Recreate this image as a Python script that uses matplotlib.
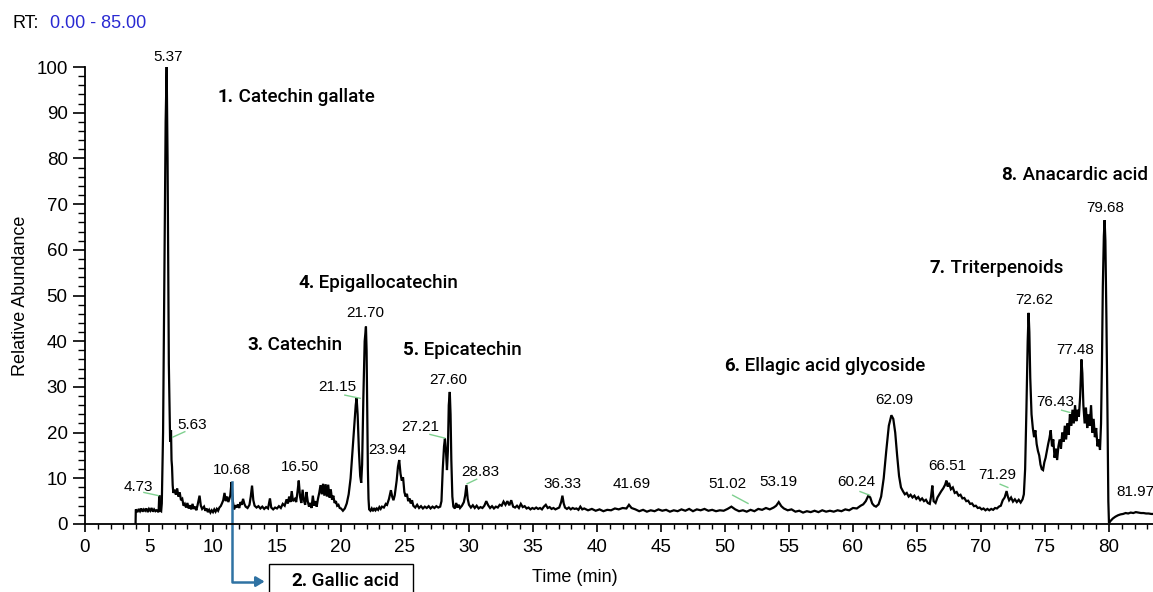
import matplotlib
matplotlib.use("Agg")
import matplotlib.pyplot as plt
from matplotlib.patches import Rectangle
from matplotlib.ticker import MultipleLocator

plt.rcParams['font.family'] = ['Liberation Sans', 'DejaVu Sans']

# chromatogram trace (time in min, relative abundance)
rt = [3.95, 3.97, 4.1, 4.2, 4.3, 4.4, 4.5, 4.6, 4.7, 4.8, 4.9, 5.0, 5.1, 5.2, 5.3, 5.4, 5.5, 5.6, 5.75, 5.8,
      5.85, 5.95, 6.0, 6.1, 6.2, 6.3, 6.38, 6.45, 6.55, 6.65, 6.72, 6.76, 6.8, 6.85, 6.9, 7.0, 7.1, 7.2, 7.3, 7.4,
      7.5, 7.6, 7.7, 7.8, 7.9, 8.0, 8.1, 8.2, 8.3, 8.4, 8.5, 8.6, 8.7, 8.8, 8.95, 9.05, 9.15, 9.3, 9.4, 9.5,
      9.6, 9.7, 9.8, 9.9, 10.0, 10.1, 10.2, 10.3, 10.4, 10.5, 10.6, 10.7, 10.8, 10.9, 11.0, 11.1, 11.2, 11.35, 11.45, 11.55,
      11.65, 11.75, 11.85, 11.95, 12.05, 12.15, 12.25, 12.35, 12.45, 12.55, 12.7, 12.85, 12.95, 13.05, 13.15, 13.25, 13.4, 13.55, 13.7, 13.85,
      14.0, 14.15, 14.3, 14.45, 14.55, 14.7, 14.85, 15.0, 15.15, 15.3, 15.45, 15.6, 15.75, 15.85, 15.95, 16.05, 16.15, 16.25, 16.4, 16.5,
      16.6, 16.7, 16.8, 16.9, 17.0, 17.1, 17.2, 17.3, 17.4, 17.5, 17.6, 17.7, 17.8, 17.9, 18.0, 18.1, 18.2, 18.3, 18.4, 18.5,
      18.6, 18.7, 18.8, 18.9, 19.0, 19.1, 19.2, 19.3, 19.4, 19.5, 19.6, 19.7, 19.8, 19.9, 20.0, 20.15, 20.3, 20.45, 20.6, 20.75,
      20.9, 21.05, 21.15, 21.22, 21.3, 21.4, 21.5, 21.58, 21.65, 21.75, 21.85, 21.95, 22.0, 22.05, 22.1, 22.15, 22.2, 22.3, 22.4, 22.5,
      22.6, 22.7, 22.8, 22.9, 23.0, 23.1, 23.2, 23.35, 23.5, 23.6, 23.75, 23.9, 24.0, 24.1, 24.2, 24.35, 24.45, 24.55, 24.65, 24.75,
      24.85, 24.95, 25.05, 25.15, 25.25, 25.35, 25.45, 25.55, 25.65, 25.8, 25.95, 26.1, 26.25, 26.4, 26.55, 26.7, 26.85, 27.0, 27.15, 27.3,
      27.45, 27.6, 27.75, 27.85, 27.95, 28.05, 28.12, 28.2, 28.28, 28.35, 28.42, 28.5, 28.56, 28.62, 28.7, 28.78, 28.9, 29.0, 29.1, 29.2,
      29.3, 29.45, 29.6, 29.7, 29.8, 29.9, 30.0, 30.15, 30.3, 30.45, 30.6, 30.75, 30.9, 31.05, 31.2, 31.35, 31.5, 31.65, 31.8, 31.95,
      32.1, 32.25, 32.4, 32.55, 32.7, 32.85, 33.0, 33.15, 33.3, 33.45, 33.6, 33.75, 33.9, 34.05, 34.2, 34.35, 34.5, 34.65, 34.8, 34.95,
      35.1, 35.25, 35.4, 35.55, 35.7, 35.85, 36.0, 36.15, 36.3, 36.45, 36.6, 36.75, 36.9, 37.05, 37.2, 37.3, 37.4, 37.5, 37.65, 37.8,
      37.95, 38.1, 38.25, 38.4, 38.55, 38.7, 38.85, 39.0, 39.3, 39.6, 39.9, 40.2, 40.5, 40.8, 41.1, 41.4, 41.7, 42.0, 42.3, 42.5,
      42.7, 43.0, 43.3, 43.6, 43.9, 44.2, 44.5, 44.8, 45.1, 45.4, 45.7, 46.0, 46.3, 46.6, 46.9, 47.2, 47.5, 47.8, 48.1, 48.4,
      48.7, 49.0, 49.3, 49.6, 49.9, 50.2, 50.5, 50.8, 51.1, 51.4, 51.7, 52.0, 52.3, 52.6, 52.9, 53.2, 53.5, 53.8, 54.0, 54.2,
      54.4, 54.6, 54.9, 55.2, 55.5, 55.8, 56.1, 56.4, 56.7, 57.0, 57.3, 57.6, 57.9, 58.2, 58.5, 58.8, 59.1, 59.4, 59.7, 60.0,
      60.3, 60.6, 60.8, 61.0, 61.2, 61.35, 61.5, 61.65, 61.8, 62.0, 62.2, 62.4, 62.6, 62.8, 63.0, 63.15, 63.3, 63.45, 63.6, 63.75,
      63.9, 64.05, 64.2, 64.35, 64.5, 64.65, 64.8, 64.95, 65.1, 65.25, 65.4, 65.55, 65.7, 65.85, 66.0, 66.1, 66.2, 66.3, 66.45, 66.6,
      66.75, 66.9, 67.05, 67.2, 67.3, 67.4, 67.5, 67.65, 67.8, 67.95, 68.1, 68.25, 68.4, 68.55, 68.7, 68.85, 69.0, 69.15, 69.3, 69.45,
      69.6, 69.75, 69.9, 70.05, 70.2, 70.35, 70.5, 70.65, 70.8, 70.95, 71.1, 71.25, 71.4, 71.55, 71.7, 71.85, 72.0, 72.1, 72.2, 72.35,
      72.5, 72.65, 72.8, 72.95, 73.1, 73.25, 73.35, 73.45, 73.55, 73.65, 73.72, 73.78, 73.85, 73.95, 74.05, 74.15, 74.25, 74.35, 74.45, 74.55,
      74.65, 74.75, 74.85, 74.95, 75.05, 75.15, 75.25, 75.35, 75.45, 75.55, 75.65, 75.75, 75.85, 75.95, 76.05, 76.15, 76.25, 76.35, 76.45, 76.55,
      76.65, 76.75, 76.85, 76.95, 77.05, 77.15, 77.25, 77.35, 77.45, 77.55, 77.65, 77.75, 77.85, 77.92, 78.0, 78.1, 78.2, 78.3, 78.4, 78.5,
      78.6, 78.7, 78.8, 78.9, 79.0, 79.1, 79.2, 79.3, 79.38, 79.45, 79.52, 79.6, 79.66, 79.72, 79.8, 79.88, 79.95, 80.0, 80.1, 80.3,
      80.5, 80.7, 80.9, 81.1, 81.3, 81.5, 81.7, 81.9, 82.1, 82.3, 82.5, 82.7, 82.9, 83.1, 83.3, 83.5]
abund = [0.0, 3.2, 2.6, 3.3, 2.8, 3.4, 2.7, 3.2, 2.9, 3.4, 2.6, 3.3, 2.9, 3.5, 2.7, 3.2, 2.8, 3.0, 2.6, 6.3,
         3.0, 2.8, 4.5, 20.0, 55.0, 88.0, 100.0, 80.0, 35.0, 18.0, 20.5, 14.0, 12.5, 8.5, 6.8, 7.5, 6.4, 7.8, 6.0, 6.9,
         5.2, 5.5, 4.0, 4.4, 3.6, 4.6, 3.4, 4.1, 3.2, 4.4, 3.3, 3.8, 3.0, 4.2, 6.2, 4.0, 3.3, 3.8, 2.9, 3.4,
         2.6, 3.1, 2.5, 3.0, 2.6, 3.2, 2.7, 3.3, 2.9, 3.6, 3.9, 4.5, 5.2, 6.8, 5.0, 6.0, 4.8, 6.2, 9.2, 5.0,
         3.2, 4.1, 3.6, 4.3, 3.5, 4.8, 4.2, 5.5, 4.4, 3.8, 3.5, 4.2, 6.0, 8.4, 5.2, 4.0, 3.6, 3.9, 3.4, 3.8,
         3.3, 3.7, 3.4, 5.6, 3.6, 3.2, 3.6, 3.4, 3.9, 3.5, 4.4, 4.0, 5.4, 4.5, 6.0, 4.8, 7.2, 5.0, 5.5, 4.8,
         7.0, 9.5, 6.0, 4.6, 7.5, 5.2, 4.2, 7.0, 5.0, 3.8, 4.6, 3.5, 6.2, 4.0, 5.0, 3.8, 5.5, 6.8, 8.5, 6.5,
         8.8, 6.2, 8.7, 6.0, 8.6, 5.8, 7.6, 5.3, 6.2, 4.6, 5.0, 4.0, 4.2, 3.5, 3.4, 2.9, 3.4, 4.5, 6.5, 10.0,
         16.0, 22.0, 26.0, 27.6, 24.0, 16.0, 10.5, 9.0, 13.0, 28.0, 40.0, 43.2, 38.0, 25.0, 12.0, 5.5, 3.2, 2.9, 3.4, 2.8,
         3.5, 3.0, 3.4, 3.1, 3.7, 3.3, 3.8, 3.6, 4.4, 4.2, 5.5, 7.4, 6.0, 5.2, 6.3, 9.5, 12.5, 14.0, 11.0, 9.5,
         10.2, 7.0, 6.0, 6.6, 5.0, 5.6, 4.5, 5.2, 4.0, 3.6, 4.2, 3.5, 3.9, 3.4, 3.8, 3.5, 3.9, 3.4, 3.8, 3.5,
         3.9, 3.6, 3.8, 5.0, 12.0, 17.0, 18.7, 16.0, 11.8, 16.0, 26.0, 28.9, 24.0, 14.0, 6.0, 3.8, 3.4, 4.6, 3.6, 4.2,
         3.5, 4.0, 4.8, 6.2, 8.5, 5.5, 4.2, 3.6, 4.1, 3.5, 4.0, 3.4, 3.7, 3.5, 4.0, 5.0, 4.1, 3.5, 3.9, 3.4,
         3.8, 3.6, 4.2, 4.0, 4.9, 4.2, 5.0, 4.1, 5.2, 3.8, 3.6, 4.0, 3.5, 4.4, 3.7, 3.9, 3.4, 3.6, 3.2, 3.5,
         3.3, 3.6, 3.3, 3.5, 3.2, 3.8, 4.2, 3.5, 3.7, 3.3, 3.5, 3.2, 3.4, 3.6, 4.8, 6.2, 4.5, 3.6, 3.3, 3.6,
         3.2, 3.5, 3.3, 3.4, 3.1, 3.8, 3.2, 3.4, 3.0, 3.3, 2.9, 3.2, 2.8, 3.1, 3.0, 3.4, 3.2, 3.5, 3.4, 4.2,
         3.5, 3.2, 2.8, 3.1, 2.7, 3.0, 2.8, 3.2, 2.9, 3.1, 2.7, 3.0, 2.8, 3.2, 2.9, 3.3, 2.8, 3.2, 3.0, 3.3,
         2.9, 3.1, 2.8, 3.0, 2.9, 3.3, 3.8, 3.2, 2.8, 3.0, 2.7, 3.1, 2.8, 3.3, 3.1, 3.5, 3.2, 3.6, 4.0, 4.8,
         3.9, 3.4, 3.0, 3.2, 2.7, 2.9, 2.5, 2.8, 2.6, 2.9, 2.6, 3.0, 2.7, 2.9, 2.7, 3.0, 2.8, 3.2, 3.0, 3.5,
         3.4, 4.0, 4.3, 5.0, 6.2, 5.8, 4.5, 4.0, 3.8, 4.3, 6.0, 10.0, 16.0, 21.5, 23.8, 23.0, 20.0, 15.0, 10.5, 8.0,
         7.2, 6.5, 6.8, 6.0, 6.4, 5.8, 6.2, 5.5, 5.9, 5.2, 5.6, 5.0, 5.3, 4.6, 4.4, 6.0, 8.4, 5.0, 4.6, 5.8,
         6.5, 7.2, 7.8, 8.6, 9.5, 8.2, 9.0, 7.6, 8.0, 6.8, 7.0, 6.2, 6.4, 5.6, 5.7, 5.0, 5.1, 4.4, 4.5, 3.9,
         4.0, 3.5, 3.6, 3.2, 3.4, 3.0, 3.3, 3.0, 3.3, 3.1, 3.5, 3.4, 3.8, 4.0, 5.2, 5.8, 7.2, 6.0, 5.2, 5.8,
         4.9, 5.4, 4.8, 5.3, 4.7, 5.4, 6.5, 12.0, 25.0, 40.0, 46.2, 42.0, 32.0, 24.0, 21.0, 19.0, 20.5, 17.5, 16.0, 15.0,
         13.0, 12.0, 11.8, 13.5, 14.5, 16.0, 17.5, 18.8, 20.5, 17.0, 18.5, 14.5, 16.5, 14.0, 17.0, 18.5, 16.5, 20.0, 18.0, 21.5,
         18.5, 22.0, 19.5, 24.0, 21.5, 25.0, 22.0, 26.0, 22.5, 25.0, 23.5, 28.0, 36.0, 33.0, 26.0, 22.0, 25.5, 21.0, 24.0, 21.5,
         26.0, 20.0, 23.0, 19.0, 21.0, 17.0, 18.5, 16.2, 22.0, 35.0, 52.0, 63.0, 66.5, 62.0, 45.0, 25.0, 5.0, 0.2, 0.6, 1.2,
         1.6, 1.9, 2.1, 2.2, 2.4, 2.3, 2.5, 2.4, 2.6, 2.5, 2.4, 2.4, 2.3, 2.3, 2.2, 2.2]

# peak retention-time labels: text, x, y
peak_text = ['5.37', '4.73', '5.63', '10.68', '16.50', '21.15', '21.70', '23.94', '27.21', '27.60', '28.83',
             '36.33', '41.69', '51.02', '53.19', '60.24', '62.09', '66.51', '71.29', '72.62', '77.48', '76.43',
             '79.68', '81.97']
peak_x = [6.48, 4.14, 8.36, 11.48, 16.8, 19.69, 21.88, 23.6, 26.17, 28.36, 30.86,
          37.27, 42.73, 50.16, 54.2, 60.23, 63.2, 67.34, 71.25, 74.14, 77.34, 75.78,
          79.69, 82.03]
peak_y = [102.2, 8.1, 21.7, 11.8, 12.5, 30.0, 46.2, 16.2, 21.2, 31.5, 11.4,
          8.75, 8.75, 8.75, 9.2, 9.2, 27.1, 12.7, 10.7, 49.0, 38.1, 26.7,
          69.1, 7.0]

# short green leader lines: x0, y0, x1, y1
lead_x0 = [4.6, 6.85, 20.3, 26.95, 29.85, 50.6, 60.55, 71.5, 76.3]
lead_y0 = [6.9, 19.0, 28.2, 19.6, 8.8, 6.3, 7.1, 8.7, 24.9]
lead_x1 = [5.75, 7.8, 21.5, 28.1, 30.6, 51.8, 61.3, 72.1, 76.95]
lead_y1 = [6.2, 20.2, 27.5, 18.8, 9.8, 4.5, 6.3, 8.0, 24.4]

# compound annotations: number, name, left x, y
cmp_num = ['1.', '3.', '4.', '5.', '6.', '7.', '8.']
cmp_name = ['Catechin gallate', 'Catechin', 'Epigallocatechin', 'Epicatechin',
            'Ellagic acid glycoside', 'Triterpenoids', 'Anacardic acid']
cmp_x = [10.39, 12.66, 16.64, 24.84, 49.92, 66.0, 71.6]
cmp_y = [93.4, 39.2, 52.7, 38.1, 34.6, 56.0, 76.4]

W, H = 1153, 592
fig = plt.figure(figsize=(W / 100, H / 100), dpi=100)
ax = fig.add_axes([85 / W, (H - 524) / H, 1068 / W, 457 / H])

ax.plot(rt, abund, color='black', lw=1.6, solid_joinstyle='miter')

ax.set_xlim(0, 83.44)
ax.set_ylim(0, 100)
for s in ['top', 'right']:
    ax.spines[s].set_visible(False)
for s in ['left', 'bottom']:
    ax.spines[s].set_linewidth(1.3)

ax.xaxis.set_major_locator(MultipleLocator(5))
ax.xaxis.set_minor_locator(MultipleLocator(1))
ax.yaxis.set_major_locator(MultipleLocator(10))
ax.yaxis.set_minor_locator(MultipleLocator(2))
ax.tick_params(axis='x', which='major', length=6, width=1.2, pad=4.5, labelsize=13.5)
ax.tick_params(axis='x', which='minor', length=3.5, width=1.0)
ax.tick_params(axis='y', which='major', length=9, width=1.2, pad=3.5, labelsize=13.5)
ax.tick_params(axis='y', which='minor', length=5, width=1.0)

ax.set_xlabel('Time (min)', fontsize=13)
ax.xaxis.set_label_coords(0.459, -0.098)
ax.set_ylabel('Relative Abundance', fontsize=13)
ax.yaxis.set_label_coords(-0.052, 0.5)

fig.text(12 / W, 1 - 23 / H, 'RT:', fontsize=13, va='center', ha='left')
fig.text(50 / W, 1 - 23 / H, '0.00 - 85.00', fontsize=13, va='center', ha='left', color='#2a2ad2')

for t, x, y in zip(peak_text, peak_x, peak_y):
    ax.text(x, y, t, fontsize=11, ha='center', va='center', clip_on=False)

for x0, y0, x1, y1 in zip(lead_x0, lead_y0, lead_x1, lead_y1):
    ax.plot([x0, x1], [y0, y1], color='#7fd08f', lw=1.0)

for n, name, x, y in zip(cmp_num, cmp_name, cmp_x, cmp_y):
    t1 = ax.text(x, y, n, fontsize=13.5, family='Roboto', weight='bold', ha='left', va='center')
    ax.annotate(' ' + name, xy=(1, 0), xycoords=t1, fontsize=13.5, family='Roboto',
                weight='medium', ha='left', va='bottom')

# 2. Gallic acid callout below the axis
blue = '#2f72a3'
ax.plot([11.5, 11.5, 13.5], [9.2, -12.6, -12.6], color=blue, lw=1.8, clip_on=False)
ax.annotate('', xy=(14.25, -12.6), xytext=(13.3, -12.6),
            arrowprops=dict(arrowstyle='-|>,head_length=0.5,head_width=0.3', color=blue, lw=1.8),
            annotation_clip=False)
ax.add_patch(Rectangle((14.375, -18.0), 11.25, 9.25, fill=False, edgecolor='black', lw=1.0, clip_on=False))
g1 = ax.text(16.1, -12.4, '2.', fontsize=13.5, family='Roboto', weight='bold', ha='left', va='center',
             clip_on=False)
ax.annotate(' Gallic acid', xy=(1, 0), xycoords=g1, fontsize=13.5, family='Roboto',
            weight='medium', ha='left', va='bottom', annotation_clip=False)

fig.savefig('out.png', dpi=100)
